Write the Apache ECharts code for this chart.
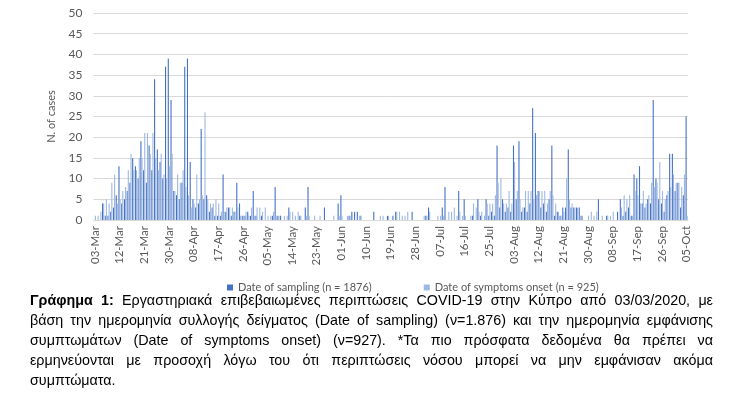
<!DOCTYPE html>
<html>
<head>
  <meta charset="utf-8">
  <title>COVID-19 Cyprus</title>
  <script src="https://cdn.jsdelivr.net/npm/echarts@6/dist/echarts.min.js"></script>
  <style>
    body { margin: 0; background: #fff; }
    #wrap { position: relative; width: 743px; height: 403px; }
    #main { position: absolute; left: 0; top: 0; width: 743px; height: 403px; }
    #caption {
      position: absolute; left: 30px; top: 290px; width: 683px;
      font-family: "Liberation Sans", Arial, sans-serif; font-size: 14.3px;
      line-height: 20px; color: #000;
    }
    #caption span { display: block; text-align: justify; text-align-last: justify; white-space: nowrap; }
    #caption span.last { text-align-last: left; }
  </style>
</head>
<body>
<div id="wrap">
  <div id="main"></div>
  <div id="caption">
    <span><b>Γράφημα 1:</b> Εργαστηριακά επιβεβαιωμένες περιπτώσεις COVID-19 στην Κύπρο από 03/03/2020, με</span>
    <span>βάση την ημερομηνία συλλογής δείγματος (Date of sampling) (ν=1.876) και την ημερομηνία εμφάνισης</span>
    <span>συμπτωμάτων (Date of symptoms onset) (ν=927). *Τα πιο πρόσφατα δεδομένα θα πρέπει να</span>
    <span>ερμηνεύονται με προσοχή λόγω του ότι περιπτώσεις νόσου μπορεί να μην εμφάνισαν ακόμα</span>
    <span class="last">συμπτώματα.</span>
  </div>
</div>
<script type="text/javascript">
  // daily labels 03-Mar .. 05-Oct (2020)
  var startDay = '2020-03-03';
  var dayCount = 217;
  var monthNames = ['Jan','Feb','Mar','Apr','May','Jun','Jul','Aug','Sep','Oct','Nov','Dec'];
  var days = [];
  var d0 = new Date(startDay + 'T00:00:00Z');
  for (var i = 0; i < dayCount; i++) {
    var d = new Date(d0.getTime() + i * 86400000);
    var dd = d.getUTCDate();
    days.push((dd < 10 ? '0' + dd : '' + dd) + '-' + monthNames[d.getUTCMonth()]);
  }

  // date of sampling (n = 1876)
  var sampling = [
    0,0,0,4,1,1,2,3,6,13,
    4,5,7,9,15,13,10,19,12,9,
    18,12,34,17,14,10,37,39,29,7,
    6,5,9,37,39,14,5,3,4,22,
    5,6,2,3,1,1,1,11,2,3,
    1,2,9,4,1,1,2,1,7,1,
    0,1,0,0,0,1,8,1,1,0,
    0,3,0,0,0,1,0,3,8,0,
    0,0,0,0,3,0,0,0,0,4,
    6,0,0,1,2,2,2,1,0,0,
    0,0,2,0,0,0,0,1,0,1,
    2,0,0,0,0,0,2,0,0,0,
    0,1,3,0,0,0,0,3,8,0,
    0,0,0,7,0,5,0,0,1,0,
    5,1,0,5,1,2,1,18,3,5,
    2,3,2,18,5,19,2,3,2,4,
    27,21,7,3,4,2,5,18,1,2,
    1,3,3,17,3,3,3,3,1,0,
    0,0,0,0,5,0,0,1,0,0,
    0,2,5,1,2,3,1,11,10,13,
    4,3,5,4,29,10,5,4,2,6,
    16,16,7,9,3,6,25
  ];

  // date of symptoms onset (n = 925)
  var onset = [
    1,1,2,4,5,4,9,11,4,5,
    7,8,12,16,12,12,15,15,21,21,
    16,21,15,12,16,11,10,13,16,7,
    11,9,12,8,6,3,4,11,5,6,
    26,5,4,4,5,4,2,2,3,3,
    3,2,3,1,1,2,1,3,1,3,
    3,2,3,1,1,2,1,1,0,1,
    1,2,2,1,2,1,0,1,1,0,
    1,0,1,0,0,0,0,1,0,1,
    1,0,1,1,0,0,0,1,0,0,
    0,0,0,0,1,1,0,1,0,0,
    2,2,1,1,2,0,0,0,0,0,
    1,1,2,0,0,1,1,1,0,2,
    2,3,1,2,1,1,0,1,4,3,
    2,2,1,4,4,4,6,9,10,4,
    4,7,4,14,7,5,3,7,7,7,
    5,6,7,7,7,4,7,6,4,2,
    1,2,10,5,4,3,3,1,0,0,
    1,2,1,2,0,1,0,1,1,2,
    0,0,3,6,5,6,1,7,6,4,
    7,4,6,9,8,9,14,7,5,7,
    8,11,9,9,8,11,1
  ];

  var yTicks = { min: 0, max: 50, step: 5 };

  var myChart = echarts.init(document.getElementById('main'));
  var labelFont = 'Lato, "Open Sans", sans-serif';
  var option = {
    animation: false,
    backgroundColor: '#fff',
    grid: { left: 93.5, right: 55, top: 13, bottom: 183 },
    legend: {
      left: 222, top: 277,
      itemWidth: 6, itemHeight: 6, itemGap: 52,
      icon: 'rect',
      textStyle: { color: '#595959', fontSize: 11, fontFamily: labelFont },
      data: ['Date of sampling (n = 1876)', 'Date of symptoms onset (n = 925)']
    },
    xAxis: {
      type: 'category',
      data: days,
      axisLine: { lineStyle: { color: '#d9d9d9' } },
      axisTick: { interval: 8, alignWithLabel: true, length: 4, lineStyle: { color: '#bfbfbf' } },
      axisLabel: {
        interval: 8, rotate: 90, margin: 6,
        color: '#595959', fontSize: 11.5, fontFamily: labelFont
      }
    },
    yAxis: {
      type: 'value',
      min: yTicks.min, max: yTicks.max, interval: yTicks.step,
      name: 'N. of cases',
      nameLocation: 'middle', nameRotate: 90, nameGap: 37,
      nameTextStyle: { color: '#595959', fontSize: 11, fontFamily: labelFont },
      axisLine: { show: false },
      axisTick: { show: false },
      axisLabel: { margin: 11, color: '#595959', fontSize: 12, fontFamily: labelFont },
      splitLine: { lineStyle: { color: '#d9d9d9' } }
    },
    series: [
      {
        name: 'Date of sampling (n = 1876)',
        type: 'bar',
        data: sampling,
        barGap: '0%',
        barCategoryGap: '20%',
        itemStyle: { color: '#4472c4' }
      },
      {
        name: 'Date of symptoms onset (n = 925)',
        type: 'bar',
        data: onset,
        barGap: '0%',
        barCategoryGap: '20%',
        itemStyle: { color: '#9fb8e3' }
      }
    ]
  };
  myChart.setOption(option);
</script>
</body>
</html>
